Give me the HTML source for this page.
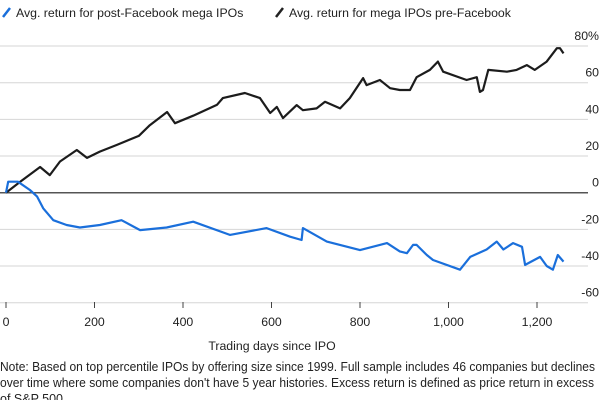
<!DOCTYPE html>
<html><head><meta charset="utf-8"><style>
body{margin:0;width:600px;height:400px;overflow:hidden;background:#fff;font-family:"Liberation Sans",sans-serif;color:#222}
svg{position:absolute;left:0;top:0}
</style></head><body>
<svg width="600" height="400">
<g id="legend">
<line x1="3" y1="17" x2="10" y2="8" stroke="#1a6fdb" stroke-width="2.5"/>
<text x="16" y="17" font-size="12.3" fill="#222">Avg. return for post-Facebook mega IPOs</text>
<line x1="276" y1="17" x2="283" y2="8" stroke="#222" stroke-width="2.5"/>
<text x="289" y="17" font-size="12.3" fill="#222">Avg. return for mega IPOs pre-Facebook</text>
</g>
<g id="grid"></g><g id="series"></g>
<text x="272" y="350" font-size="12.3" text-anchor="middle" fill="#222">Trading days since IPO</text>
<g font-size="12.5" fill="#222">
<text x="0" y="371" textLength="595" lengthAdjust="spacingAndGlyphs">Note: Based on top percentile IPOs by offering size since 1999. Full sample includes 46 companies but declines</text>
<text x="0" y="387" textLength="594" lengthAdjust="spacingAndGlyphs">over time where some companies don't have 5 year histories. Excess return is defined as price return in excess</text>
<text x="0" y="403">of S&amp;P 500</text>
</g>
</svg>
<script>
const yTicks=[80,60,40,20,0,-20,-40,-60];
const yTickLabels=["80%","60","40","20","0","-20","-40","-60"];
const xTicks=[0,200,400,600,800,1000,1200];
const xTickLabels=["0","200","400","600","800","1,000","1,200"];
const preDays=[0,32,77,99,122,160,183,212,250,300,325,364,382,423,477,490,540,574,597,612,626,657,671,702,721,755,777,807,815,845,868,890,913,928,958,976,988,1041,1064,1071,1078,1090,1132,1154,1177,1195,1222,1245,1252,1260];
const preVals=[0,6,14,9.6,17,23.3,19,22.4,26,31,36.8,44,37.9,42,48,51.6,54.4,51.6,43.5,46.8,40.7,47.8,45,46,49.6,46,51.6,62.5,58.7,61.5,57,56,56,63,67,71.5,66,61.5,63,55,56,67,66,67,69.6,67,71.5,78.8,78.8,76];
const postDays=[0,5,27,54,70,84,107,137,167,212,261,303,363,423,506,589,642,668,671,725,800,861,890,906,920,928,951,965,1026,1049,1086,1109,1124,1146,1166,1173,1207,1222,1236,1247,1260];
const postVals=[0,6,6,1.5,-2,-8.5,-15,-17.6,-19,-17.6,-15,-20.4,-19,-15.8,-23,-19.3,-24,-25.8,-19.3,-26.7,-31.3,-27.5,-32,-33,-28.5,-28.5,-34,-36.7,-42,-35,-31,-26.7,-31,-27.5,-29.5,-39.4,-35,-40,-42,-34,-37.6];
const X=d=>6+d*0.4425, Y=v=>192.7-v*1.8333;
const NS="http://www.w3.org/2000/svg";
const grid=document.getElementById('grid'), ser=document.getElementById('series');
function mk(tag,at,parent){const e=document.createElementNS(NS,tag);for(const k in at)e.setAttribute(k,at[k]);parent.appendChild(e);return e;}
yTicks.forEach((v,i)=>{
 const l=mk('line',{x1:0,x2:588,y1:Y(v),y2:Y(v),stroke:v===0?'#555':'#d6d6d6','stroke-width':v===0?1.5:1},grid);
 
 
 const t=mk('text',{x:599,y:Y(v)-6,'font-size':12.3,'text-anchor':'end',fill:'#222'},grid);
 t.textContent=yTickLabels[i];
 
 
});
xTicks.forEach((d,i)=>{
 const l=mk('line',{x1:X(d),x2:X(d),y1:302,y2:308,stroke:'#444','stroke-width':1},grid);
 
 
 const t=mk('text',{x:X(d),y:326,'font-size':12.3,'text-anchor':'middle',fill:'#222'},grid);
 t.textContent=xTickLabels[i];
 
 
});
function path(days,vals){return days.map((d,i)=>(i?'L':'M')+X(d).toFixed(1)+','+Y(vals[i]).toFixed(1)).join('');}
const pre=mk('path',{d:path(preDays,preVals),fill:'none',stroke:'#1c1c1c','stroke-width':2.2,'stroke-linejoin':'round'},ser);


const post=mk('path',{d:path(postDays,postVals),fill:'none',stroke:'#1a6fdb','stroke-width':2.2,'stroke-linejoin':'round'},ser);


</script>
</body></html>
